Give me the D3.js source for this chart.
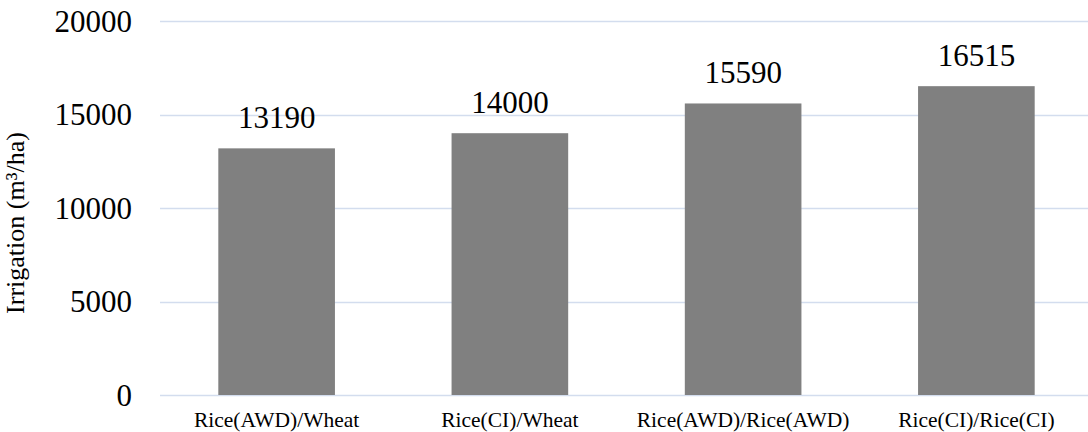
<!DOCTYPE html>
<html lang="en">
<head>
<meta charset="utf-8">
<title>Irrigation by rotation</title>
<script src="https://cdn.jsdelivr.net/npm/d3@7"></script>
<style>
  body { margin: 0; background: #fff; }
  svg text { font-family: "Liberation Serif", "Times New Roman", serif; fill: #000; }
</style>
</head>
<body>
<script>
// data
const categories = ["Rice(AWD)/Wheat", "Rice(CI)/Wheat", "Rice(AWD)/Rice(AWD)", "Rice(CI)/Rice(CI)"];
const irrigation = [13190, 14000, 15590, 16515];
const yTicks = [0, 5000, 10000, 15000, 20000];

const width = 1088, height = 432;
const plotLeft = 160, plotRight = 1093, plotTop = 21, plotBottom = 395;

const svg = d3.select("body").append("svg")
  .attr("width", width)
  .attr("height", height);

const x = d3.scaleBand()
  .domain(categories)
  .range([plotLeft, plotRight])
  .paddingInner(0.5)
  .paddingOuter(0.25);

const y = d3.scaleLinear()
  .domain([0, 20000])
  .range([plotBottom, plotTop]);

// gridlines
svg.append("g")
  .selectAll("line")
  .data(yTicks)
  .enter()
  .append("line")
  .attr("x1", plotLeft)
  .attr("x2", plotRight)
  .attr("y1", d => Math.round(y(d)) + 0.5)
  .attr("y2", d => Math.round(y(d)) + 0.5)
  .attr("stroke", "#d3ddee")
  .attr("stroke-width", 1.4);

// y tick labels
svg.append("g")
  .selectAll("text")
  .data(yTicks)
  .enter()
  .append("text")
  .attr("x", 132)
  .attr("y", d => y(d))
  .attr("dy", "0.34em")
  .attr("text-anchor", "end")
  .attr("font-size", "31px")
  .text(d => String(d));

// bars
svg.append("g")
  .selectAll("rect")
  .data(irrigation)
  .enter()
  .append("rect")
  .attr("x", (d, i) => x(categories[i]))
  .attr("width", x.bandwidth())
  .attr("y", d => y(d))
  .attr("height", d => y(0) - y(d))
  .attr("fill", "#808080");

// value labels
svg.append("g")
  .selectAll("text")
  .data(irrigation)
  .enter()
  .append("text")
  .attr("x", (d, i) => x(categories[i]) + x.bandwidth() / 2)
  .attr("y", d => y(d) - 20)
  .attr("text-anchor", "middle")
  .attr("font-size", "31px")
  .text(d => String(d));

// category labels
svg.append("g")
  .selectAll("text")
  .data(categories)
  .enter()
  .append("text")
  .attr("x", d => x(d) + x.bandwidth() / 2)
  .attr("y", plotBottom + 32)
  .attr("text-anchor", "middle")
  .attr("font-size", "21.5px")
  .text(d => d);

// y axis title
svg.append("text")
  .attr("transform", "translate(24," + 223 + ") rotate(-90)")
  .attr("text-anchor", "middle")
  .attr("font-size", "26px")
  .text("Irrigation (m³/ha)");
</script>
</body>
</html>
